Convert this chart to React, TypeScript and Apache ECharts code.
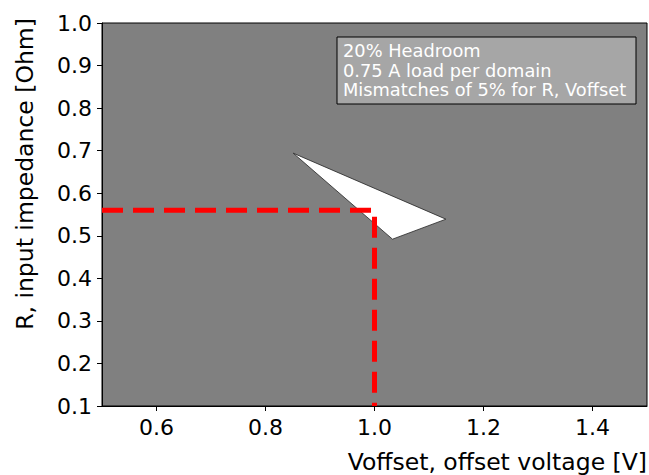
import React, { useEffect, useRef } from "react";
import * as echarts from "echarts";

const xTicks = [0.6, 0.8, 1.0, 1.2, 1.4];
const triangleX = [0.851, 1.131, 1.033];
const triangleY = [0.694, 0.539, 0.492];
const refLineX = [0.5, 1.0, 1.0];
const refLineY = [0.56, 0.56, 0.1];
const noteLines = ["20% Headroom", "0.75 A load per domain", "Mismatches of 5% for R, Voffset"];
const xLabel = "Voffset, offset voltage [V]";
const yLabel = "R, input impedance [Ohm]";

const FONT = "DejaVu Sans";

export default function App() {
  const ref = useRef<HTMLDivElement>(null);
  useEffect(() => {
    if (!ref.current) return;
    const chart = echarts.init(ref.current, undefined, { renderer: "svg" });
    const triData = triangleX.map((x, i) => [x, triangleY[i]]);
    chart.setOption({
      animation: false,
      backgroundColor: "#ffffff",
      grid: {
        left: 102,
        right: 2,
        top: 23,
        bottom: 69,
        show: true,
        backgroundColor: "#808080",
        borderColor: "#000000",
        borderWidth: 1,
      },
      xAxis: {
        type: "value",
        min: 0.5,
        max: 1.5,
        splitLine: { show: false },
        axisLine: { show: true, onZero: false, lineStyle: { color: "#000", width: 1 } },
        axisTick: { show: true, customValues: xTicks, length: 5, lineStyle: { color: "#000" } },
        axisLabel: {
          customValues: xTicks,
          formatter: (v: number) => v.toFixed(1),
          color: "#000",
          fontFamily: FONT,
          fontSize: 22,
          margin: 10,
        },
      },
      yAxis: {
        type: "value",
        min: 0.1,
        max: 1.0,
        interval: 0.1,
        splitLine: { show: false },
        axisLine: { show: true, onZero: false, lineStyle: { color: "#000", width: 1 } },
        axisTick: { show: true, length: 5, lineStyle: { color: "#000" } },
        axisLabel: {
          formatter: (v: number) => v.toFixed(1),
          color: "#000",
          fontFamily: FONT,
          fontSize: 22,
          margin: 10,
        },
      },
      series: [
        {
          type: "custom",
          data: triData,
          z: 2,
          renderItem: (params: any, api: any) => {
            if (params.dataIndex !== 0) return null;
            const pts = triData.map((d) => api.coord(d));
            return {
              type: "polygon",
              shape: { points: pts },
              style: { fill: "#ffffff", stroke: "#222222", lineWidth: 0.8 },
            };
          },
        },
        {
          type: "line",
          z: 3,
          data: refLineX.map((x, i) => [x, refLineY[i]]),
          symbol: "none",
          lineStyle: { color: "#ff0000", width: 5, type: [21, 10] },
        },
      ],
      graphic: [
        {
          type: "rect",
          shape: { x: 337, y: 37, width: 299, height: 67 },
          style: { fill: "#a6a6a6", stroke: "#000", lineWidth: 1 },
          z: 10,
        },
        ...noteLines.map((t, i) => ({
          type: "text",
          x: 343,
          y: 50.5 + i * 19.5,
          z: 11,
          style: {
            text: t,
            fill: "#ffffff",
            font: `17.8px "${FONT}"`,
            textAlign: "left",
            textVerticalAlign: "middle",
          },
        })),
        {
          type: "text",
          x: 647,
          y: 462,
          style: {
            text: xLabel,
            fill: "#000",
            font: `23.5px "${FONT}"`,
            textAlign: "right",
            textVerticalAlign: "middle",
          },
        },
        {
          type: "text",
          x: 25,
          y: 174,
          rotation: Math.PI / 2,
          style: {
            text: yLabel,
            fill: "#000",
            font: `23.5px "${FONT}"`,
            textAlign: "center",
            textVerticalAlign: "middle",
          },
        },
      ],
    });
    return () => chart.dispose();
  }, []);
  return <div ref={ref} style={{ width: 649, height: 475, position: "absolute", left: 0, top: 0 }} />;
}
